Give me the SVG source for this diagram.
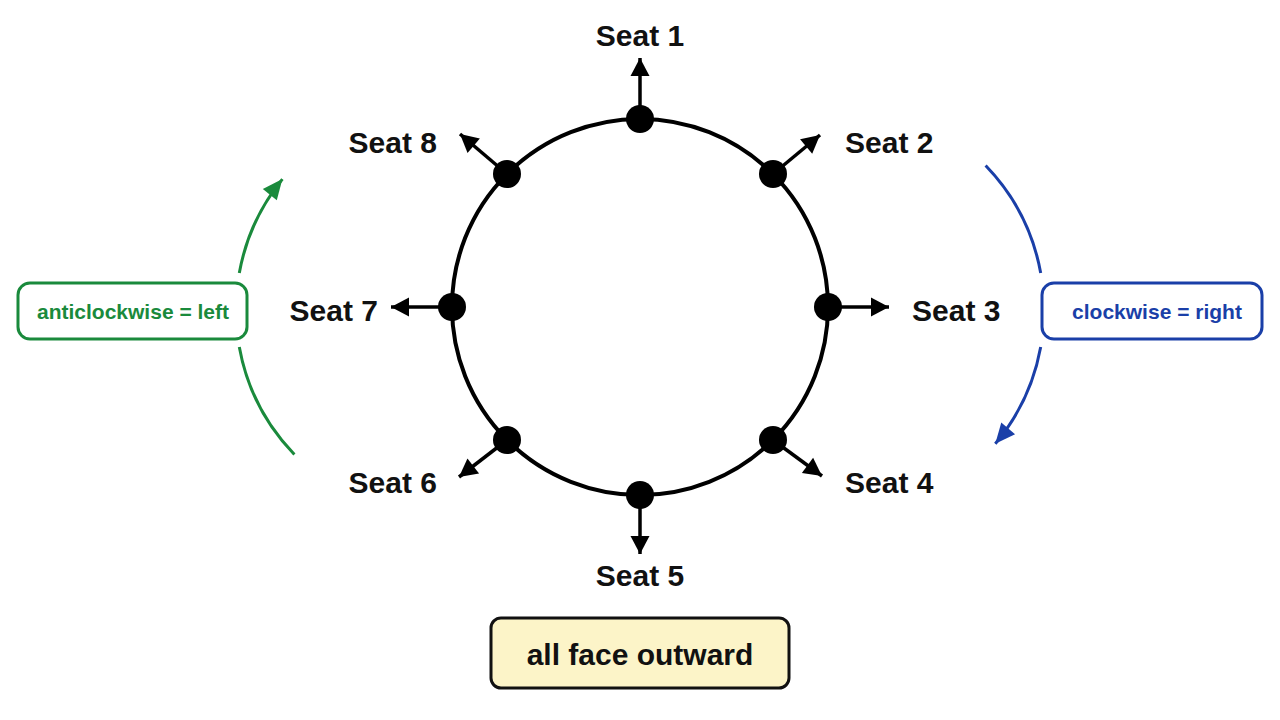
<svg xmlns="http://www.w3.org/2000/svg" width="1280" height="720" viewBox="0 0 1280 720">
<defs>
<marker id="ah" markerUnits="userSpaceOnUse" markerWidth="22" markerHeight="22" viewBox="0 0 22 22" refX="19" refY="11" orient="auto"><path d="M1,1.5 L19,11 L1,20.5 Z" fill="#000"/></marker>
<marker id="ahg" markerUnits="userSpaceOnUse" markerWidth="24" markerHeight="24" viewBox="0 0 24 24" refX="21" refY="12" orient="auto"><path d="M1,3 L21,12 L1,21 Z" fill="#1a8a3c"/></marker>
<marker id="ahb" markerUnits="userSpaceOnUse" markerWidth="24" markerHeight="24" viewBox="0 0 24 24" refX="21" refY="12" orient="auto"><path d="M1,3 L21,12 L1,21 Z" fill="#1a3fa8"/></marker>
</defs>
<style>
.seat{font-family:"Liberation Sans",Arial,sans-serif;font-weight:bold;font-size:30px;fill:#111}
.ray{stroke:#000;stroke-width:3.5;fill:none;marker-end:url(#ah)}
.dot{fill:#000}
.lbl{font-family:"Liberation Sans",Arial,sans-serif;font-weight:bold;font-size:21px;text-anchor:middle}
</style>
<rect width="1280" height="720" fill="#fff"/>
<g id="table"><circle cx="640" cy="307" r="188" fill="none" stroke="#000" stroke-width="4"/></g>
<g id="connectors">
<line class="ray" x1="640" y1="119" x2="640" y2="58"/>
<line class="ray" x1="773" y1="174" x2="820" y2="135"/>
<line class="ray" x1="828" y1="307" x2="889" y2="307"/>
<line class="ray" x1="773" y1="440" x2="822" y2="476"/>
<line class="ray" x1="640" y1="495" x2="640" y2="554"/>
<line class="ray" x1="507" y1="440" x2="459" y2="477"/>
<line class="ray" x1="452" y1="307" x2="391" y2="307"/>
<line class="ray" x1="507" y1="174" x2="460" y2="134"/>
<path d="M294.4,454.5 A208,208 0 0 1 239.3,347" fill="none" stroke="#1a8a3c" stroke-width="3"/>
<path d="M239.3,273 A208,208 0 0 1 282.4,179.1" fill="none" stroke="#1a8a3c" stroke-width="3" marker-end="url(#ahg)"/>
<path d="M985.6,165.5 A208,208 0 0 1 1040.7,273" fill="none" stroke="#1a3fa8" stroke-width="3"/>
<path d="M1040.7,347 A208,208 0 0 1 995.3,443.7" fill="none" stroke="#1a3fa8" stroke-width="3" marker-end="url(#ahb)"/>
</g>
<g id="seat1"><circle class="dot" cx="640" cy="119" r="14"/><text class="seat" x="640" y="46" text-anchor="middle">Seat 1</text></g>
<g id="seat2"><circle class="dot" cx="773" cy="174" r="14"/><text class="seat" x="845" y="153">Seat 2</text></g>
<g id="seat3"><circle class="dot" cx="828" cy="307" r="14"/><text class="seat" x="912" y="321">Seat 3</text></g>
<g id="seat4"><circle class="dot" cx="773" cy="440" r="14"/><text class="seat" x="845" y="493">Seat 4</text></g>
<g id="seat5"><circle class="dot" cx="640" cy="495" r="14"/><text class="seat" x="640" y="586" text-anchor="middle">Seat 5</text></g>
<g id="seat6"><circle class="dot" cx="507" cy="440" r="14"/><text class="seat" x="437" y="493" text-anchor="end">Seat 6</text></g>
<g id="seat7"><circle class="dot" cx="452" cy="307" r="14"/><text class="seat" x="378" y="321" text-anchor="end">Seat 7</text></g>
<g id="seat8"><circle class="dot" cx="507" cy="174" r="14"/><text class="seat" x="437" y="153" text-anchor="end">Seat 8</text></g>
<g id="anticlockwise"><rect x="18" y="283" width="229" height="56" rx="12" fill="#fff" stroke="#1a8a3c" stroke-width="3"/><text class="lbl" x="133" y="319" fill="#1a8a3c">anticlockwise = left</text></g>
<g id="clockwise"><rect x="1042" y="283" width="220" height="56" rx="12" fill="#fff" stroke="#1a3fa8" stroke-width="3"/><text class="lbl" x="1157" y="319" fill="#1a3fa8">clockwise = right</text></g>
<g id="note"><rect x="491" y="618" width="298" height="70" rx="10" fill="#fcf4c8" stroke="#111" stroke-width="3"/><text class="seat" x="640" y="665" text-anchor="middle">all face outward</text></g>
</svg>
